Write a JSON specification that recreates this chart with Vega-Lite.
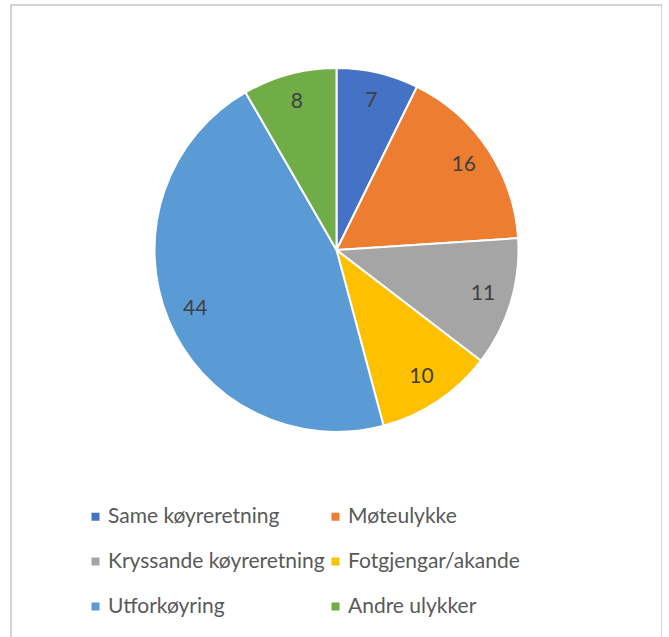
{
  "$schema": "https://vega.github.io/schema/vega-lite/v6.json",
  "width": 651,
  "height": 640,
  "autosize": {"type": "none"},
  "padding": {"left": 11, "top": 5, "right": 0, "bottom": 0},
  "background": "white",
  "view": {"stroke": "#d4d4d4", "strokeWidth": 2},
  "data": {
    "values": [
      {"category": "Same køyreretning", "value": 7, "order": 1},
      {"category": "Møteulykke", "value": 16, "order": 2},
      {"category": "Kryssande køyreretning", "value": 11, "order": 3},
      {"category": "Fotgjengar/akande", "value": 10, "order": 4},
      {"category": "Utforkøyring", "value": 44, "order": 5},
      {"category": "Andre ulykker", "value": 8, "order": 6}
    ]
  },
  "encoding": {
    "theta": {"field": "value", "type": "quantitative", "stack": true},
    "order": {"field": "order", "type": "quantitative"}
  },
  "layer": [
    {
      "mark": {"type": "arc", "outerRadius": 182, "stroke": "white", "strokeWidth": 2, "y": 245},
      "encoding": {
        "color": {
          "field": "category",
          "type": "nominal",
          "scale": {
            "domain": ["Same køyreretning", "Møteulykke", "Kryssande køyreretning", "Fotgjengar/akande", "Utforkøyring", "Andre ulykker"],
            "range": ["#4472C4", "#ED7D31", "#A5A5A5", "#FFC000", "#5B9BD5", "#70AD47"]
          },
          "legend": {
            "title": null,
            "orient": "none",
            "direction": "horizontal",
            "legendX": 74,
            "legendY": 501,
            "columns": 2,
            "columnPadding": 0,
            "rowPadding": 23,
            "symbolType": "square",
            "symbolSize": 64,
            "symbolStrokeWidth": 0,
            "labelOffset": 2,
            "labelFont": "Lato",
            "labelFontSize": 21,
            "labelColor": "#595959",
            "labelLimit": 0
          }
        }
      }
    },
    {
      "mark": {"type": "text", "radius": 153, "y": 245, "font": "Lato", "fontSize": 21, "fill": "#404040"},
      "encoding": {
        "text": {"field": "value", "type": "quantitative"}
      }
    }
  ]
}
